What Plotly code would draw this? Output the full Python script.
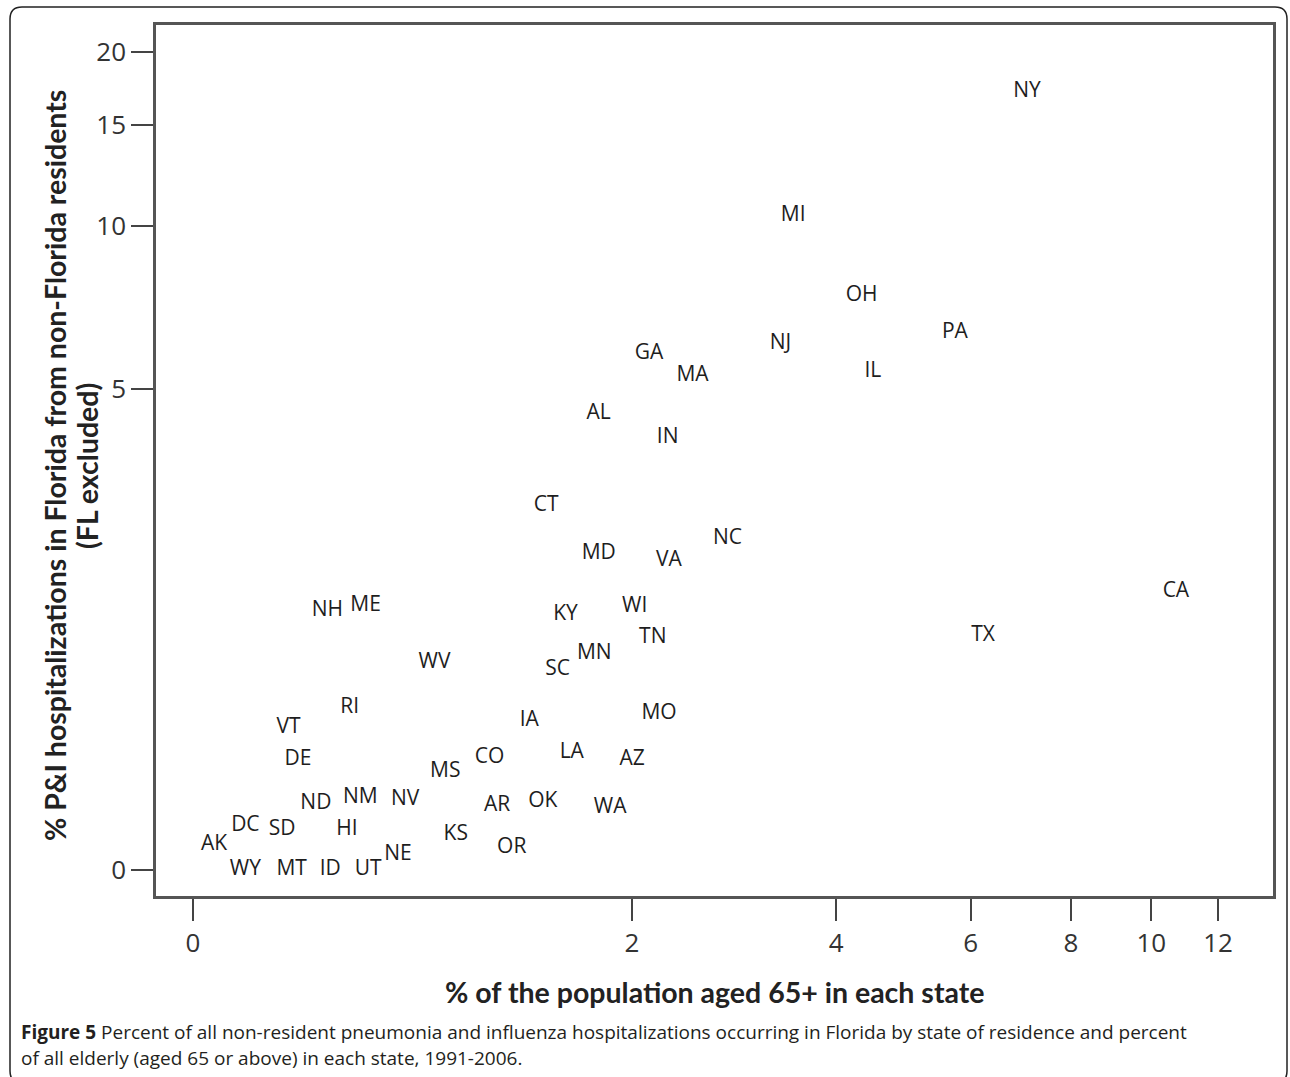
import plotly.graph_objects as go

# ---- data ----
states = ["NY", "MI", "OH", "NJ", "PA", "GA", "MA", "IL", "AL", "IN",
          "CT", "MD", "VA", "NC", "CA", "NH", "ME", "KY", "WI", "TN",
          "TX", "WV", "SC", "MN", "RI", "VT", "IA", "MO", "DE", "CO",
          "LA", "AZ", "MS", "ND", "NM", "NV", "AR", "OK", "WA", "DC",
          "SD", "HI", "KS", "AK", "NE", "OR", "WY", "MT", "ID", "UT"]
pct_elderly = [7.06, 3.49, 4.33, 3.35, 5.73, 2.13, 2.49, 4.48, 1.76, 2.28,
               1.42, 1.76, 2.29, 2.81, 10.70, 0.40, 0.54, 1.54, 2.02, 2.16,
               6.22, 0.83, 1.49, 1.73, 0.48, 0.27, 1.32, 2.21, 0.30, 1.10,
               1.58, 2.00, 0.88, 0.36, 0.52, 0.70, 1.14, 1.40, 1.84, 0.14,
               0.25, 0.47, 0.93, 0.054, 0.67, 1.22, 0.14, 0.28, 0.41, 0.55]
pct_pi_hosp = [17.13, 10.43, 7.48, 6.09, 6.39, 5.83, 5.30, 5.39, 4.46, 4.00,
               2.88, 2.24, 2.16, 2.43, 1.82, 1.62, 1.67, 1.59, 1.66, 1.37,
               1.39, 1.16, 1.11, 1.24, 0.83, 0.70, 0.74, 0.79, 0.51, 0.52,
               0.55, 0.51, 0.44, 0.28, 0.31, 0.30, 0.27, 0.29, 0.26, 0.18,
               0.16, 0.16, 0.14, 0.10, 0.06, 0.085, 0.0, 0.0, 0.0, 0.0]
x_ticks = [0, 2, 4, 6, 8, 10, 12]
y_ticks = [0, 5, 10, 15, 20]

x_title = "% of the population aged 65+ in each state"
y_title_1 = "% P&I hospitalizations in Florida from non-Florida residents"
y_title_2 = "(FL excluded)"
caption_bold = "Figure 5"
caption_1 = (" Percent of all non-resident pneumonia and influenza hospitalizations "
             "occurring in Florida by state of residence and percent")
caption_2 = "of all elderly (aged 65 or above) in each state, 1991-2006."

# ---- layout geometry (pixels) ----
W, H = 1290, 1077
L, R, T, B = 156, 1273, 25, 896


def px(x):
    return (x - L) / (R - L)


def py(y):
    return (B - y) / (B - T)


# axes use log(v + 1) scale, as in the reference
xs = [v + 1 for v in pct_elderly]
ys = [v + 1 for v in pct_pi_hosp]

fig = go.Figure()
fig.add_trace(go.Scatter(
    x=xs, y=ys, mode="text", text=states,
    textposition="middle center",
    textfont=dict(family="Open Sans", size=21, color="#1e1e1e"),
    hoverinfo="text", cliponaxis=False, showlegend=False,
))

axis_common = dict(
    type="log", showgrid=False, zeroline=False,
    ticks="outside", ticklen=22, tickwidth=2, tickcolor="#444444",
    showline=True, linewidth=2.5, linecolor="#555555", mirror=True,
    tickfont=dict(family="Open Sans", size=26, color="#333333"),
)

fig.update_xaxes(
    range=[-0.04021, 1.17371],
    tickvals=[v + 1 for v in x_ticks], ticktext=[str(v) for v in x_ticks],
    **axis_common,
)
fig.update_yaxes(
    range=[-0.04203, 1.36585],
    tickvals=[v + 1 for v in y_ticks], ticktext=[str(v) for v in y_ticks],
    **axis_common,
)

# outer rounded box
x0, y0, x1, y1, r = 10, 7, 1287, 1083, 12
path = (
    f"M {px(x0 + r)} {py(y0)} L {px(x1 - r)} {py(y0)} "
    f"Q {px(x1)} {py(y0)} {px(x1)} {py(y0 + r)} "
    f"L {px(x1)} {py(y1 - r)} "
    f"Q {px(x1)} {py(y1)} {px(x1 - r)} {py(y1)} "
    f"L {px(x0 + r)} {py(y1)} "
    f"Q {px(x0)} {py(y1)} {px(x0)} {py(y1 - r)} "
    f"L {px(x0)} {py(y0 + r)} "
    f"Q {px(x0)} {py(y0)} {px(x0 + r)} {py(y0)} Z"
)
fig.add_shape(type="path", path=path, xref="paper", yref="paper",
              line=dict(color="#222222", width=1.5), layer="below")

title_font = dict(family="Lato", size=28.5, color="#222222")
cap_font = dict(family="Open Sans", size=19, color="#231f20")
annotations = [
    dict(text=f"<b>{x_title}</b>", x=px(714), y=py(992), font=title_font,
         xanchor="center", yanchor="middle"),
    dict(text=f"<b>{y_title_1}</b>", x=px(55), y=py(466), font=title_font,
         textangle=-90, xanchor="center", yanchor="middle"),
    dict(text=f"<b>{y_title_2}</b>", x=px(87), y=py(466), font=title_font,
         textangle=-90, xanchor="center", yanchor="middle"),
    dict(text=f"<b>{caption_bold}</b>{caption_1}", x=px(19), y=py(1032),
         font=cap_font, xanchor="left", yanchor="middle"),
    dict(text=caption_2, x=px(19), y=py(1058),
         font=cap_font, xanchor="left", yanchor="middle"),
]
for a in annotations:
    a.update(xref="paper", yref="paper", showarrow=False)

fig.update_layout(
    width=W, height=H,
    margin=dict(l=L, r=W - R, t=T, b=H - B, pad=0),
    paper_bgcolor="white", plot_bgcolor="white",
    annotations=annotations,
)

fig.write_html(
    "out.html",
    config={"displayModeBar": False},
    post_script="document.body.style.margin='0';document.body.style.overflow='hidden';",
)
